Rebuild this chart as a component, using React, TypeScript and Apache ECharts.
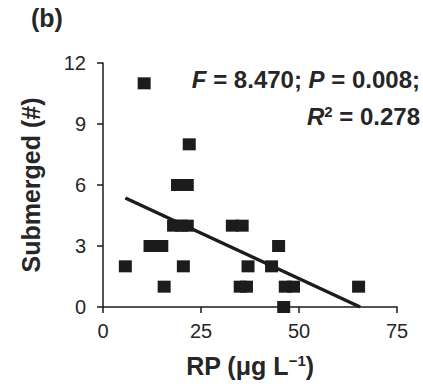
import React, { useEffect, useRef } from "react";
import * as echarts from "echarts";

const rpValues = [10.5, 22, 19, 21.5, 18, 20, 21.5, 33, 35.5, 12, 13.5, 15, 44.8, 5.7, 20.5, 37, 43, 15.6, 35, 36.6, 46.5, 48.6, 65.2, 46.1];
const submergedValues = [11, 8, 6, 6, 4, 4, 4, 4, 4, 3, 3, 3, 3, 2, 2, 2, 2, 1, 1, 1, 1, 1, 1, 0];
const trendX = [5.7, 65.6];
const trendY = [5.36, 0];
const xTicks = [0, 25, 50, 75];
const yTicks = [0, 3, 6, 9, 12];

const FONT = "'Liberation Sans', Arial, sans-serif";
const INK = "#262626";

export default function App() {
  const ref = useRef<HTMLDivElement>(null);
  useEffect(() => {
    if (!ref.current) return;
    const chart = echarts.init(ref.current, null, { renderer: "svg" });
    const points = rpValues.map((x, i) => [x, submergedValues[i]]);
    const trend = trendX.map((x, i) => [x, trendY[i]]);
    chart.setOption({
      animation: false,
      backgroundColor: "#ffffff",
      grid: { left: 103, right: 26, top: 63, bottom: 77, containLabel: false },
      xAxis: {
        type: "value",
        min: xTicks[0],
        max: xTicks[xTicks.length - 1],
        interval: 25,
        name: "RP (μg L{sup|−1})",
        nameLocation: "middle",
        nameGap: 46,
        nameTextStyle: {
          fontFamily: FONT,
          fontSize: 25,
          fontWeight: "bold",
          color: INK,
          rich: {
            sup: { fontSize: 15, fontWeight: "bold", fontFamily: FONT, color: INK, padding: [0, 0, 10, 0] },
          },
        },
        axisLine: { show: true, onZero: false, lineStyle: { color: "#1a1a1a", width: 1.5 } },
        axisTick: { show: true, length: 6, inside: false, lineStyle: { color: "#1a1a1a", width: 1.5 } },
        axisLabel: { fontFamily: FONT, fontSize: 20, color: INK, margin: 14 },
        splitLine: { show: false },
      },
      yAxis: {
        type: "value",
        min: yTicks[0],
        max: yTicks[yTicks.length - 1],
        interval: 3,
        name: "Submerged (#)",
        nameLocation: "middle",
        nameGap: 60,
        nameTextStyle: { fontFamily: FONT, fontSize: 25, fontWeight: "bold", color: INK },
        axisLine: { show: true, onZero: false, lineStyle: { color: "#1a1a1a", width: 1.5 } },
        axisTick: { show: true, length: 6, inside: false, lineStyle: { color: "#1a1a1a", width: 1.5 } },
        axisLabel: { fontFamily: FONT, fontSize: 20, color: INK, margin: 17 },
        splitLine: { show: false },
      },
      series: [
        {
          type: "scatter",
          data: points,
          symbol: "rect",
          symbolSize: [13, 12],
          itemStyle: { color: "#1c1c1c", opacity: 1 },
          z: 3,
        },
        {
          type: "line",
          data: trend,
          symbol: "none",
          lineStyle: { color: "#1c1c1c", width: 3.5 },
          z: 4,
        },
      ],
      graphic: [
        {
          type: "text",
          left: 31,
          top: 5,
          style: { text: "(b)", font: `bold 25px ${FONT}`, fill: INK },
        },
        {
          type: "text",
          x: 420,
          y: 67,
          style: {
            text: "{i|F} = 8.470; {i|P} = 0.008;",
            align: "right",
            verticalAlign: "top",
            fill: INK,
            font: `bold 24px ${FONT}`,
            rich: {
              i: { fontStyle: "italic", fontWeight: "bold", fontSize: 24, fontFamily: FONT, fill: INK },
            },
          },
        },
        {
          type: "text",
          x: 420,
          y: 104,
          style: {
            text: "{i|R}{s|2} = 0.278",
            align: "right",
            verticalAlign: "top",
            fill: INK,
            font: `bold 24px ${FONT}`,
            rich: {
              i: { fontStyle: "italic", fontWeight: "bold", fontSize: 24, fontFamily: FONT, fill: INK },
              s: { fontWeight: "bold", fontSize: 15, fontFamily: FONT, fill: INK, padding: [0, 0, 10, 0] },
            },
          },
        },
      ],
    });
    return () => chart.dispose();
  }, []);
  return (
    <div
      ref={ref}
      style={{ position: "absolute", left: 0, top: 0, width: 423, height: 384, background: "#fff" }}
    />
  );
}
